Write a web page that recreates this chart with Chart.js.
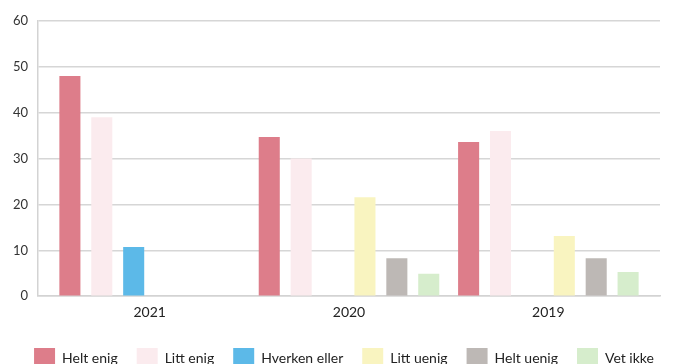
<!DOCTYPE html>
<html>
<head>
<meta charset="utf-8">
<script src="https://cdn.jsdelivr.net/npm/chart.js@4.4.1/dist/chart.umd.min.js"></script>
<style>
  html, body { margin: 0; padding: 0; background: #fff; overflow: hidden; }
  canvas { display: block; }
</style>
</head>
<body>
<canvas id="surveyChart" width="676" height="378"></canvas>
<script>
// Survey answers per year (percent)
const years = ["2021", "2020", "2019"];
const heltEnig = [48, 34.7, 33.6];
const littEnig = [39, 30, 36];
const hverkenEller = [10.7, null, null];
const littUenig = [null, 21.6, 13.1];
const heltUenig = [null, 8.3, 8.3];
const vetIkke = [null, 4.9, 5.3];
const yTicks = [0, 10, 20, 30, 40, 50, 60];

const seriesNames = ["Helt enig", "Litt enig", "Hverken eller", "Litt uenig", "Helt uenig", "Vet ikke"];
const seriesData = [heltEnig, littEnig, hverkenEller, littUenig, heltUenig, vetIkke];
const seriesColors = ["#dd7d8a", "#fbebee", "#5cb9e8", "#f9f4c0", "#bdb8b5", "#d6edcc"];

const font = "Lato, 'Open Sans', sans-serif";

const ctx = document.getElementById("surveyChart").getContext("2d");
new Chart(ctx, {
  type: "bar",
  data: {
    labels: years,
    datasets: seriesNames.map((name, i) => ({
      label: name,
      data: seriesData[i],
      backgroundColor: seriesColors[i],
      borderWidth: 0,
      barPercentage: 0.66,
      categoryPercentage: 0.96
    }))
  },
  options: {
    responsive: false,
    animation: false,
    layout: { padding: { top: 21, left: 12, right: 0, bottom: 0 } },
    scales: {
      x: {
        grid: { display: false, drawTicks: false },
        border: { display: true, color: "#d3d3d3", width: 1.5 },
        ticks: { color: "#222", font: { family: font, size: 14 }, padding: 8 },
        // shift the year centres a little to the right of the even split
        afterBuildTicks: scale => {
          scale._startValue = -0.56;
          scale._valueRange = 3.12;
        }
      },
      y: {
        min: 0,
        max: 60,
        afterBuildTicks: scale => {
          scale.ticks = yTicks.map(v => ({ value: v }));
        },
        afterFit: scale => { scale.width = 26; },
        grid: { color: "#d6d6d6", lineWidth: 1.5, drawTicks: false },
        border: { display: true, color: "#d3d3d3", width: 1.5 },
        ticks: { color: "#333", font: { family: font, size: 13 }, padding: 10 }
      },
      // empty strip on the right so the plot stops short of the edge
      gutter: {
        type: "linear",
        position: "right",
        grid: { display: false },
        border: { display: false },
        ticks: { display: false },
        afterFit: scale => { scale.width = 16; }
      }
    },
    plugins: {
      legend: {
        position: "bottom",
        labels: {
          boxWidth: 21,
          boxHeight: 20,
          padding: 19,
          color: "#222",
          font: { family: font, size: 14 }
        }
      },
      tooltip: { enabled: false }
    }
  }
});
</script>
</body>
</html>
